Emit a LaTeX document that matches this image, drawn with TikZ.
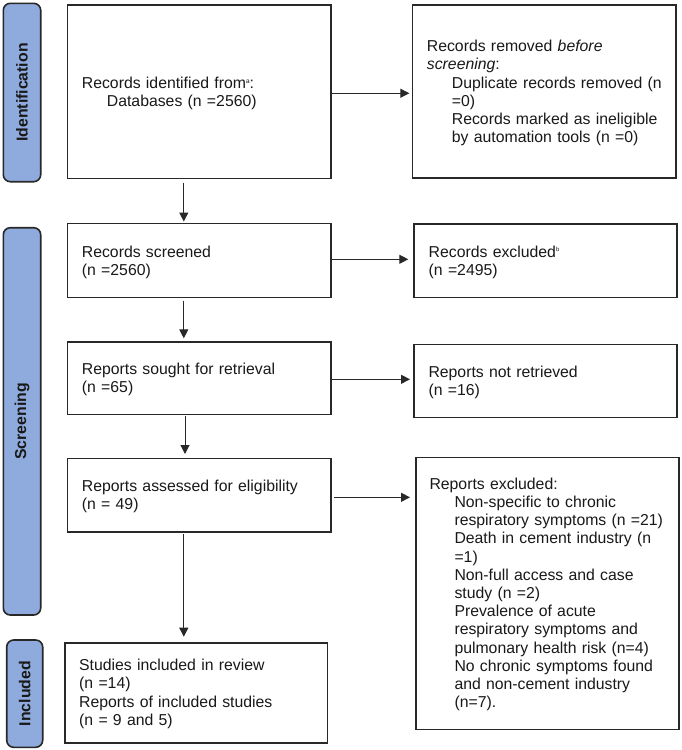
\documentclass[tikz,border=0pt]{standalone}
\usepackage{fontspec}
\setmainfont{Liberation Sans}
\usetikzlibrary{arrows.meta,fit,calc}
\definecolor{barblue}{RGB}{143,170,220}
\definecolor{linegray}{RGB}{40,40,40}
\begin{document}
\begin{tikzpicture}[x=1pt,y=-1pt,
  box/.style={draw=linegray, line width=1.6pt, inner sep=0pt, fill=white},
  bar/.style={draw=linegray, line width=1.6pt, inner sep=0pt, fill=barblue, rounded corners=7pt},
  barlabel/.style={rotate=90, font=\fontsize{15.8}{18}\selectfont\bfseries, inner sep=0pt, text=black!90},
  txt/.style={anchor=base west, inner sep=0pt, text width=255pt, align=left, font=\fontsize{15.8}{18.2}\selectfont, text=black!90},
  flow/.style={draw=linegray, line width=1pt, -{Triangle[length=9pt,width=9pt]}},
]
\useasboundingbox (0,0) rectangle (682,750);

% phase bars
\node[bar, fit={(3.3,3.3) (40.7,181.7)}] (bI) {};
\node[bar, fit={(3.3,227.7) (40.7,615)}] (bS) {};
\node[bar, fit={(6.7,640) (42.7,747.3)}] (bN) {};
\node[barlabel] (lI) at (bI.center) {Identification};
\node[barlabel] (lS) at (bS.center) {Screening};
\node[barlabel] (lN) at (bN.center) {Included};

% boxes
\node[box, fit={(67.3,5) (330.7,178.3)}] (b1) {};
\node[box, fit={(412.3,5) (676,177.7)}] (b2) {};
\node[box, fit={(67.3,223.3) (330.7,297.3)}] (b3) {};
\node[box, fit={(414,224) (677,297.3)}] (rex) {};
\node[box, fit={(67.3,341.7) (330.7,414.3)}] (b4) {};
\node[box, fit={(414,344.3) (677,417.3)}] (nr) {};
\node[box, fit={(67.3,458.3) (331,531.7)}] (b5) {};
\node[box, fit={(415.7,457.3) (678.7,729.3)}] (rep) {};
\node[box, fit={(65,642.7) (327.3,742.7)}] (b6) {};

% texts
\node[txt] (t1) at (81.7,88) {Records identified from\raisebox{5pt}{\fontsize{6.5}{6.5}\selectfont a}:\\
\hspace*{25pt}Databases (n =2560)};
\node[txt] (t2) at (426.7,51.7) {Records removed \textit{before}\\
\textit{screening}:\\
\hspace*{25pt}Duplicate records removed (n\\
\hspace*{25pt}=0)\\
\hspace*{25pt}Records marked as ineligible\\
\hspace*{25pt}by automation tools (n =0)};
\node[txt] (t3) at (81.7,257) {Records screened\\(n =2560)};
\node[txt] (t4) at (428.5,257) {Records excluded\raisebox{6pt}{\fontsize{6}{6}\selectfont b}\\(n =2495)};
\node[txt] (t5) at (81.7,374) {Reports sought for retrieval\\(n =65)};
\node[txt] (t6) at (428.3,377.7) {Reports not retrieved\\(n =16)};
\node[txt] (t7) at (81.7,491.7) {Reports assessed for eligibility\\(n = 49)};
\node[txt] (t8) at (429.3,489.3) {Reports excluded:\\
\hspace*{25pt}Non-specific to chronic\\
\hspace*{25pt}respiratory symptoms (n =21)\\
\hspace*{25pt}Death in cement industry (n\\
\hspace*{25pt}=1)\\
\hspace*{25pt}Non-full access and case\\
\hspace*{25pt}study (n =2)\\
\hspace*{25pt}Prevalence of acute\\
\hspace*{25pt}respiratory symptoms and\\
\hspace*{25pt}pulmonary health risk (n=4)\\
\hspace*{25pt}No chronic symptoms found\\
\hspace*{25pt}and non-cement industry\\
\hspace*{25pt}(n=7).};
\node[txt] (t9) at (79,670.7) {Studies included in review\\(n =14)\\Reports of included studies\\(n = 9 and 5)};

% horizontal connectors
\coordinate (h1) at ([yshift=-1.6pt]b1.east);
\coordinate (h2) at ([yshift=1pt]b3.east);
\coordinate (h3) at ([yshift=-1.3pt]b4.east);
\coordinate (h4) at ([yshift=-2.3pt]b5.east);
\draw[flow, shorten >=2.2pt] (h1) -- (h1 -| b2.west);
\draw[flow, shorten >=4.9pt] (h2) -- (h2 -| rex.west);
\draw[flow, shorten <=0.8pt, shorten >=3.2pt] (h3) -- (h3 -| nr.west);
\draw[flow, shorten <=2.2pt, shorten >=4.9pt] (h4) -- (h4 -| rep.west);

% vertical connectors
\coordinate (v1) at ([xshift=117.3pt]b1.south west);
\coordinate (v2) at ([xshift=117.3pt]b3.south west);
\coordinate (v3) at ([xshift=118.5pt]b4.south west);
\coordinate (v4) at ([xshift=117.3pt]b5.south west);
\draw[flow, shorten <=3.6pt, shorten >=1pt] (v1) -- (v1 |- b3.north);
\draw[flow, shorten <=2.6pt, shorten >=2.6pt] (v2) -- (v2 |- b4.north);
\draw[flow, shorten <=0.6pt, shorten >=3.5pt] (v3) -- (v3 |- b5.north);
\draw[flow, shorten <=1.5pt, shorten >=5.2pt] (v4) -- (v4 |- b6.north);
\end{tikzpicture}
\end{document}
